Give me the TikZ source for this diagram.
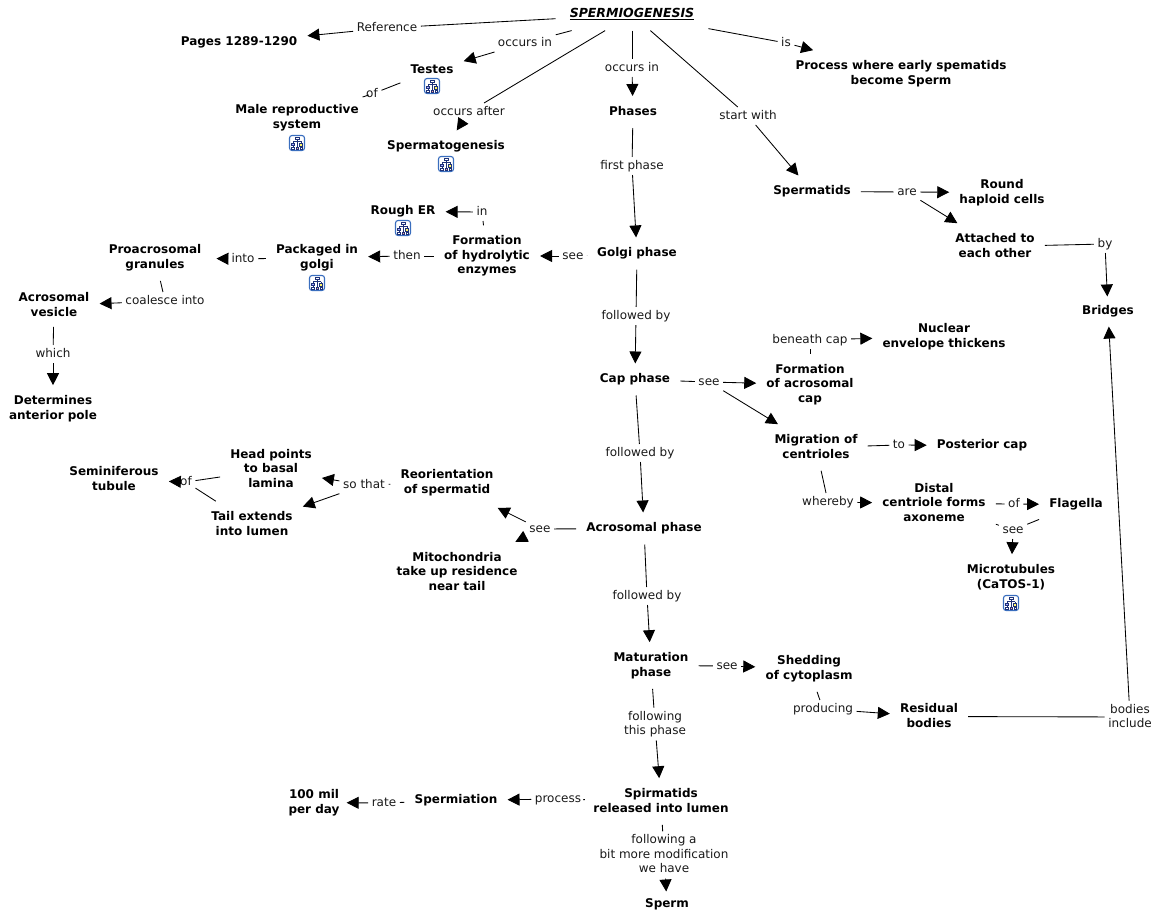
\documentclass[tikz,border=0pt]{standalone}
\usepackage{fontspec}
\setmainfont{DejaVu Sans}
\usetikzlibrary{arrows.meta}
\definecolor{iconblue}{RGB}{58,110,190}
\definecolor{treeblue}{RGB}{30,50,120}
\tikzset{
 concept/.style={font=\fontsize{12}{14.6}\selectfont\bfseries,align=center,inner xsep=10pt,inner ysep=10pt,text=black,yshift=-1.5pt,execute at begin node={\vphantom{lp}},execute at end node={\vphantom{lp}}},
 lab/.style={font=\fontsize{12}{14.6}\selectfont,align=center,inner xsep=3.5pt,inner ysep=3pt,text=black!90,yshift=-1pt,execute at begin node={\vphantom{lp}},execute at end node={\vphantom{lp}}},
 con/.style={line width=0.85pt,black},
 arr/.style={con,-{Triangle[length=12pt,width=12pt]}},
 pics/cmapicon/.style={code={
  \fill[white,draw=iconblue,line width=1.1pt,rounded corners=2.5pt] (-7.5,-7.5) rectangle (7.5,7.5);
  \draw[treeblue,line width=.5pt] (0,-3.5)--(0,-1.5) (-4,-1.5)--(4,-1.5) (-4,-1.5)--(-4,0) (4,-1.5)--(4,1) (-4,3)--(-4,4) (4,3)--(4,4) (0,-1.5)--(0,4);
  \draw[treeblue,line width=.6pt,fill=white] (-2,-5.5) rectangle (2,-3.5);
  \draw[treeblue,line width=.6pt,fill=blue!35] (-5.5,0) rectangle (-2.5,2.5);
  \draw[treeblue,line width=.6pt,fill=yellow!60] (2.5,0.5) rectangle (5.5,3);
  \draw[treeblue,line width=.6pt,fill=white] (-5.5,4) rectangle (-3,6);
  \draw[treeblue,line width=.6pt,fill=red!40] (-1.2,4) rectangle (1.2,6);
  \draw[treeblue,line width=.6pt,fill=white] (3,4) rectangle (5.5,6);
 }}
}
\begin{document}
\begin{tikzpicture}[x=1pt,y=-1pt]
\useasboundingbox (0,0) rectangle (1154,920);
% concepts
\node[concept,inner xsep=14pt,inner ysep=10pt] (spg) at (632,13) {\fontsize{12.5}{14.6}\selectfont\textit{\underline{SPERMIOGENESIS}}};
\node[concept] (pages) at (239,41) {Pages 1289-1290};
\node[concept] (testes) at (432,69) {Testes};
\node[concept] (male) at (297,116) {Male reproductive\\system};
\node[concept] (gen) at (446,145) {Spermatogenesis};
\node[concept] (phases) at (633,110.5) {Phases};
\node[concept] (process) at (901,72) {Process where early spematids\\become Sperm};
\node[concept] (sptd) at (812,190) {Spermatids};
\node[concept] (round) at (1002,191) {Round\\haploid cells};
\node[concept] (attached) at (995,245) {Attached to\\each other};
\node[concept,inner ysep=9pt] (bridges) at (1108,310) {Bridges};
\node[concept] (golgi) at (637,252) {Golgi phase};
\node[concept] (hydro) at (487,254.5) {Formation\\of hydrolytic\\enzymes};
\node[concept] (rough) at (403,210) {Rough ER};
\node[concept] (packaged) at (317,256) {Packaged in\\golgi};
\node[concept,inner xsep=15pt] (proa) at (155,256) {Proacrosomal\\granules};
\node[concept,inner ysep=8pt] (vesicle) at (54,304) {Acrosomal\\vesicle};
\node[concept] (anterior) at (53,407) {Determines\\anterior pole};
\node[concept] (cap) at (635,378) {Cap phase};
\node[concept] (acap) at (810,383) {Formation\\of acrosomal\\cap};
\node[concept] (nuclear) at (944,335) {Nuclear\\envelope thickens};
\node[concept] (migr) at (816,446) {Migration of\\centrioles};
\node[concept] (post) at (982,444) {Posterior cap};
\node[concept] (distal) at (934,502) {Distal\\centriole forms\\axoneme};
\node[concept] (flag) at (1076,503) {Flagella};
\node[concept] (micro) at (1011,576) {Microtubules\\(CaTOS-1)};
\node[concept] (acro) at (644,527) {Acrosomal phase};
\node[concept,inner ysep=12pt] (reor) at (447,481) {Reorientation\\of spermatid};
\node[concept] (head) at (271,468) {Head points\\to basal\\lamina};
\node[concept] (tail) at (252,523) {Tail extends\\into lumen};
\node[concept] (semi) at (114,478) {Seminiferous\\tubule};
\node[concept] (mito) at (457,571) {Mitochondria\\take up residence\\near tail};
\node[concept] (mat) at (651,664) {Maturation\\phase};
\node[concept] (shed) at (809,667) {Shedding\\of cytoplasm};
\node[concept] (resid) at (929,715) {Residual\\bodies};
\node[concept] (rel) at (661,800) {Spirmatids\\released into lumen};
\node[concept] (spermia) at (456,799) {Spermiation};
\node[concept,inner xsep=7pt] (mil) at (314,801) {100 mil\\per day};
\node[concept,inner ysep=7pt] (sperm) at (667,903) {Sperm};
% icons
\pic at (432,86) {cmapicon};
\pic at (297,143) {cmapicon};
\pic at (446,164) {cmapicon};
\pic at (403,228) {cmapicon};
\pic at (317,283) {cmapicon};
\pic at (1011,603) {cmapicon};
% labels
\node[lab] (lref) at (387,27) {Reference};
\node[lab] (locc1) at (525,42) {occurs in};
\node[lab] (lof1) at (372,93) {of};
\node[lab] (lafter) at (469,111) {occurs after};
\node[lab] (locc2) at (632,67) {occurs in};
\node[lab] (lis) at (786,42) {is};
\node[lab] (lstart) at (748,115) {start with};
\node[lab] (lfirst) at (632,165) {first phase};
\node[lab] (lare) at (907,191) {are};
\node[lab] (lby) at (1105,243) {by};
\node[lab] (lin) at (482,211) {in};
\node[lab] (lsee1) at (573,255) {see};
\node[lab] (lthen) at (407,255) {then};
\node[lab] (linto) at (243,258) {into};
\node[lab] (lcoal) at (165,300) {coalesce into};
\node[lab] (lwhich) at (53,353) {which};
\node[lab] (lfol1) at (636,315) {followed by};
\node[lab] (lsee2) at (709,381) {see};
\node[lab] (lbeneath) at (810,339) {beneath cap};
\node[lab] (lto) at (899,444) {to};
\node[lab] (lwhere) at (828,501) {whereby};
\node[lab] (lof2) at (1014,503) {of};
\node[lab] (lsee3) at (1013,529) {see};
\node[lab] (lfol2) at (640,452) {followed by};
\node[lab] (lsee4) at (540,528) {see};
\node[lab] (lso) at (364,484) {so that};
\node[lab] (lof3) at (186,481) {of};
\node[lab] (lfol3) at (647,595) {followed by};
\node[lab] (lsee5) at (727,665) {see};
\node[lab] (lprod) at (823,708) {producing};
\node[lab] (lbod) at (1130,716) {bodies\\include};
\node[lab] (lfollow) at (655,723) {following\\this phase};
\node[lab] (lproc) at (558,798) {process};
\node[lab] (lrate) at (384,802) {rate};
\node[lab] (lbit) at (664,854) {following a\\bit more modification\\we have};
% connectors
\draw[con] (spg)--(lref); \draw[arr] (lref)--(pages);
\draw[con] (spg)--(locc1); \draw[arr] (locc1)--(testes);
\draw[con] (testes)--(lof1); \draw[con] (lof1)--(male);
\draw[con] (spg)--(lafter); \draw[arr] (lafter)--(gen);
\draw[con] (spg)--(locc2); \draw[arr] (locc2)--(phases);
\draw[con] (spg)--(lis); \draw[arr] (lis)--(process);
\draw[con] (spg)--(lstart); \draw[arr] (lstart)--(sptd);
\draw[con] (phases)--(lfirst); \draw[arr] (lfirst)--(golgi);
\draw[con] (sptd)--(lare); \draw[arr] (lare)--(round); \draw[arr] (lare)--(attached);
\draw[con] (attached)--(lby); \draw[arr] (lby)--(bridges);
\draw[con] (golgi)--(lsee1); \draw[arr] (lsee1)--(hydro);
\draw[con] (hydro)--(lin); \draw[arr] (lin)--(rough);
\draw[con] (hydro)--(lthen); \draw[arr] (lthen)--(packaged);
\draw[con] (packaged)--(linto); \draw[arr] (linto)--(proa);
\draw[con] (proa)--(lcoal); \draw[arr] (lcoal)--(vesicle);
\draw[con] (vesicle)--(lwhich); \draw[arr] (lwhich)--(anterior);
\draw[con] (golgi)--(lfol1); \draw[arr] (lfol1)--(cap);
\draw[con] (cap)--(lsee2); \draw[arr] (lsee2)--(acap); \draw[arr] (lsee2)--(migr);
\draw[con] (acap)--(lbeneath); \draw[arr] (lbeneath)--(nuclear);
\draw[con] (migr)--(lto); \draw[arr] (lto)--(post);
\draw[con] (migr)--(lwhere); \draw[arr] (lwhere)--(distal);
\draw[con] (distal)--(lof2); \draw[arr] (lof2)--(flag);
\draw[con] (distal)--(lsee3); \draw[con] (flag)--(lsee3); \draw[arr] (lsee3)--(micro);
\draw[con] (cap)--(lfol2); \draw[arr] (lfol2)--(acro);
\draw[con] (acro)--(lsee4); \draw[arr] (lsee4)--(reor); \draw[arr] (lsee4)--(mito);
\draw[con] (reor)--(lso); \draw[arr] (lso)--(head); \draw[arr] (lso)--(tail);
\draw[con] (head)--(lof3); \draw[con] (tail)--(lof3); \draw[arr] (lof3)--(semi);
\draw[con] (acro)--(lfol3); \draw[arr] (lfol3)--(mat);
\draw[con] (mat)--(lsee5); \draw[arr] (lsee5)--(shed);
\draw[con] (shed)--(lprod); \draw[arr] (lprod)--(resid);
\draw[con] (resid)--(lbod); \draw[arr] (lbod)--(bridges);
\draw[con] (mat)--(lfollow); \draw[arr] (lfollow)--(rel);
\draw[con] (rel)--(lproc); \draw[arr] (lproc)--(spermia);
\draw[con] (spermia)--(lrate); \draw[arr] (lrate)--(mil);
\draw[con] (rel)--(lbit); \draw[arr] (lbit)--(sperm);
\end{tikzpicture}
\end{document}
